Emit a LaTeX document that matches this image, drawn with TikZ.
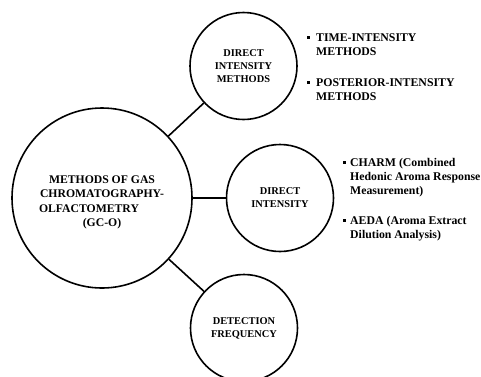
\documentclass[tikz,border=0pt]{standalone}
\usepackage{fontspec}
\setmainfont{Liberation Serif}
\usetikzlibrary{positioning}
\tikzset{
  method/.style={circle, draw, line width=1.6pt, inner sep=0pt, align=center,
    minimum size=107pt, font=\bfseries\fontsize{10.4}{13}\selectfont},
  item/.style={anchor=base west, inner sep=0pt,
    font=\bfseries\fontsize{11.8}{14}\selectfont},
  link/.style={line width=1.6pt},
}
\newcommand{\sqbul}{\rule[2.4pt]{3pt}{3pt}}
\newcommand{\bitem}[2]{\sqbul\hspace{#1}\begin{tabular}[t]{@{}l@{}}#2\end{tabular}}

\begin{document}
\begin{tikzpicture}[x=1pt, y=-1pt]
    \useasboundingbox (0,0) rectangle (481,376);
    % the four circles
    \node[method, minimum size=180pt,
      font=\bfseries\fontsize{11.7}{14.3}\selectfont] (gco) at (102,198)
      {\rule{0pt}{16.5pt}METHODS OF GAS\\CHROMATOGRAPHY-\\OLFACTOMETRY\hspace*{26pt}\mbox{}\\(GC-O)};
    \node[method] (dim) at (243.5,66) {DIRECT\\INTENSITY\\METHODS};
    \node[method] (di) at (280,198) {DIRECT\\INTENSITY};
    \node[method] (df) at (244,328) {DETECTION\\FREQUENCY};
    \draw[link] (gco) -- (dim);
    \draw[link] (gco) -- (di);
    \draw[link] (gco) -- (df);
    % lists
    \node[item] (ti) at (307,41) {\bitem{6pt}{TIME-INTENSITY\\METHODS}};
    \node[item] (pi) at (307,86) {\bitem{6pt}{POSTERIOR-INTENSITY\\METHODS}};
    \node[item] (charm) at (343,166) {\bitem{4pt}{CHARM (Combined\\Hedonic Aroma Response\\Measurement)}};
    \node[item] (aeda) at (343,224) {\bitem{4pt}{AEDA (Aroma Extract\\Dilution Analysis)}};
\end{tikzpicture}
\end{document}
